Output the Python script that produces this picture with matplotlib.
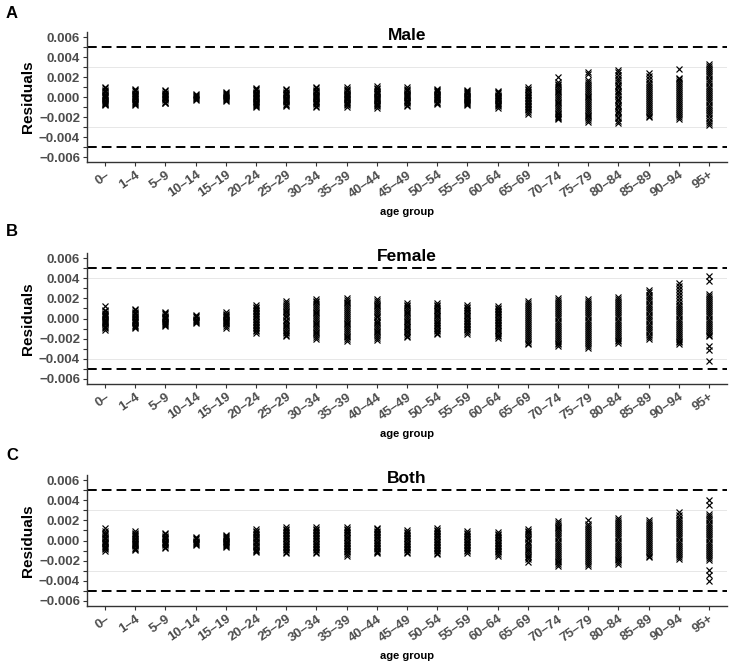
import matplotlib
matplotlib.use('Agg')
import matplotlib.pyplot as plt
import numpy as np

plt.rcParams['font.family'] = ['Liberation Sans', 'DejaVu Sans']

age_groups = ['0–', '1–4', '5–9', '10–14', '15–19', '20–24', '25–29', '30–34',
              '35–39', '40–44', '45–49', '50–54', '55–59', '60–64', '65–69',
              '70–74', '75–79', '80–84', '85–89', '90–94', '95+']

# residuals per age group, in units of 1e-4
male_res = [
    [10, 9, 7.5, 6, 5, 3.5, 2.5, 1, 0, -1, -2.5, -3.5, -4.5, -5.5, -6.5, -7, -8],
    [8, 7, 6, 4.5, 3, 2, 1, 0, -1, -2, -3.5, -4.5, -5.5, -6.5, -8],
    [7, 6, 4.5, 3, 2, 1, 0, -1, -2, -3, -4.5, -5.5, -6],
    [3, 2, 1, 0, -1, -2, -3],
    [5, 4, 3, 2, 1, 0, -1, -2, -3, -4],
    [9, 8, 7, 5.5, 4.5, 3, 2, 1, 0, -1, -2, -3.5, -4.5, -5.5, -6.5, -8, -9, -10],
    [8, 7, 5.5, 4, 3, 2, 0.5, -0.5, -1.5, -3, -4, -5, -6.5, -7.5, -9],
    [10, 9, 7.5, 6, 5, 3.5, 2, 1, 0, -1, -2, -3.5, -4.5, -6, -7, -8.5, -10],
    [10, 8.5, 7.5, 6, 4.5, 3.5, 2, 1, 0, -1, -2, -3, -4.5, -6, -7, -8, -10],
    [11, 9, 8, 6.5, 5, 4, 3, 1.5, 0.5, -0.5, -2, -3, -4, -5.5, -7, -8, -9, -10.5],
    [10, 8.5, 7, 6, 4.5, 3, 2, 1, 0, -1, -2.5, -3.5, -5, -6, -7.5, -9],
    [8.5, 7.5, 6, 5, 3.5, 2.5, 1, 0, -1, -2, -3, -4.5, -5.5, -7],
    [7.5, 6.5, 5, 4, 3, 1.5, 0.5, -0.5, -1.5, -3, -4, -5, -6, -7, -8],
    [6, 5, 4, 2.5, 1.5, 0.5, -0.5, -2, -3, -4, -5.5, -6.5, -8, -9, -11],
    [10, 8.5, 7, 5, 3.5, 2, 0.5, -1, -2.5, -4, -5.5, -7, -8.5, -10, -11.5, -13, -14.5, -16.5],
    [20, 15, 13.5, 12, 10, 8.5, 6.5, 5, 3, 1, -1, -2.5, -4.5, -6, -8, -10, -12, -13.5,
     -15.5, -17, -18.5, -20, -21, -22],
    [25, 23, 17, 15, 13, 11, 9, 7.5, 5.5, 3.5, 1.5, 0, -2, -4, -6, -8, -10, -11.5, -13.5,
     -15.5, -17.5, -19, -21, -22.5, -24.5],
    [27.5, 25, 22.5, 19.5, 17, 15, 12.5, 11, 9, 6.5, 5, 3, 1, -1.5, -3, -5, -7.5, -9, -11,
     -13.5, -15, -17, -19.5, -21, -23.5, -26],
    [24, 21.5, 18, 15.5, 13, 11.5, 9, 7, 5.5, 3, 1, -0.5, -3, -5, -6.5, -9, -11, -12.5,
     -15, -17, -18.5, -20],
    [28, 19.5, 18, 16, 14, 12, 10, 8, 6, 4, 2, 0, -2, -4, -6, -8, -10, -12, -14, -16,
     -18, -20, -22],
    [33, 31, 29, 27, 25, 23, 21, 18, 16, 14, 11, 9, 7, 5, 3, 1, -1, -3, -5, -8, -10, -12,
     -14, -16, -18, -21, -24, -26, -28],
]

female_res = [
    [12, 8, 7, 5.5, 4.5, 3, 2, 1, 0, -1, -2, -3, -4.5, -5.5, -7, -8, -9.5, -11],
    [9, 8, 6.5, 5, 4, 2.5, 1.5, 0, -1, -2, -3.5, -4.5, -6, -7, -8, -9],
    [6, 5, 4, 2.5, 1.5, 0.5, -0.5, -2, -3, -4, -5, -6, -7],
    [3, 2, 1, 0, -1, -2, -3, -4],
    [6, 4.5, 3.5, 2, 1, 0, -1, -2, -3.5, -4.5, -5.5, -7, -9],
    [13, 11.5, 10, 8.5, 7, 5.5, 4, 2.5, 1, -0.5, -2, -3.5, -5, -6.5, -8, -9.5, -11, -12.5, -14],
    [17, 15.5, 13.5, 11, 9.5, 7.5, 6, 4, 2.5, 1, -1, -2.5, -4, -6, -7.5, -9.5, -11, -13,
     -14.5, -16, -17],
    [19, 17.5, 16, 14, 12, 10, 8.5, 6.5, 5, 3, 1, -0.5, -2, -4, -5.5, -7.5, -9, -11, -13,
     -14.5, -16, -18, -20],
    [20, 18.5, 16.5, 15, 13, 11, 9, 7, 5.5, 3.5, 1.5, 0, -2, -4, -5.5, -7.5, -9.5, -11, -13,
     -15, -17, -18.5, -20, -22],
    [19, 17.5, 15.5, 13.5, 12, 10, 8, 6, 4.5, 2.5, 1, -1, -3, -4.5, -6.5, -8, -10, -12,
     -13.5, -15.5, -17, -19, -21],
    [15, 13.5, 12, 10, 8.5, 6.5, 5, 3, 1.5, 0, -2, -3.5, -5, -7, -8.5, -10, -12, -13.5,
     -15.5, -17, -18],
    [15, 13.5, 12, 10.5, 8.5, 7, 5.5, 3.5, 2, 0.5, -1, -3, -4.5, -6, -7.5, -9.5, -11, -12.5,
     -14, -15],
    [13, 11.5, 10, 8.5, 7, 5, 3.5, 2, 0.5, -1, -2.5, -4, -5.5, -7, -8.5, -10, -11.5, -13, -15],
    [12, 10.5, 9, 7.5, 6, 4.5, 3, 1.5, 0, -1.5, -3, -4.5, -6, -7.5, -9, -11, -12.5, -14,
     -16, -17.5, -19],
    [17, 15, 13, 11.5, 9.5, 7.5, 5.5, 3.5, 1.5, -0.5, -2.5, -4.5, -6.5, -8.5, -10.5, -12.5,
     -14.5, -16.5, -18.5, -20.5, -22.5, -24, -25],
    [20, 18, 16.5, 14, 12.5, 10, 8, 6.5, 4, 2, 0.5, -2, -4, -6.5, -8, -10, -12.5, -14, -16,
     -18.5, -20, -22, -24, -25.5, -27],
    [19, 17.5, 15.5, 13.5, 11, 9, 7, 5, 3, 1, -1, -3, -5, -7, -9, -11, -13, -15, -17, -19,
     -21, -23, -25, -27, -29],
    [21, 19, 17, 15, 13, 11, 9, 7, 5, 3, 1, -1, -3, -5, -7, -9, -11, -13, -15, -17, -19,
     -21, -22.5, -24],
    [28, 26, 23.5, 21, 19, 17, 14.5, 12.5, 10, 8, 6, 3.5, 1.5, -0.5, -2.5, -5, -7, -9,
     -11.5, -13.5, -16, -18, -20],
    [35, 32, 29, 26, 23, 20, 17, 14, 12, 10, 8, 6, 4, 2, 0, -2, -4, -6, -8, -10, -12, -14,
     -16, -18, -20, -22, -23.5, -25],
    [42, 37, 24, 22, 20, 18, 16, 14, 12, 10, 8, 6, 4, 2, 0, -2, -4, -6, -8, -10, -12, -14,
     -16, -17, -27, -31, -42],
]

both_res = [
    [12, 9, 7.5, 6, 5, 3.5, 2.5, 1, 0, -1, -2.5, -3.5, -5, -6, -7, -8.5, -10],
    [9, 7.5, 6.5, 5, 4, 2.5, 1, 0, -1, -2, -3.5, -4.5, -5.5, -7, -8, -9],
    [7, 6, 4.5, 3.5, 2, 1, 0, -1, -2.5, -3.5, -4.5, -6, -7],
    [3, 2, 1, 0, -1, -2, -3, -4],
    [5.5, 4.5, 3, 2, 1, 0, -1, -2, -3, -4.5, -5.5, -6.5],
    [11, 9.5, 8, 6.5, 5, 3.5, 2.5, 1, 0, -1.5, -2.5, -4, -5, -6.5, -8, -9, -10.5, -11.5],
    [13, 11.5, 10, 8.5, 7, 5.5, 4, 2.5, 1, -0.5, -2, -3.5, -5, -6.5, -8, -9.5, -11, -12],
    [13, 11.5, 10, 8.5, 7, 5.5, 4, 2.5, 1, -0.5, -2, -3.5, -5, -6.5, -8, -9.5, -11, -12],
    [13, 11.5, 10, 8.5, 7, 5, 3.5, 2, 0.5, -1, -2.5, -4, -5.5, -7, -8.5, -10, -11.5, -13, -15],
    [12.5, 11, 9.5, 8, 6.5, 5, 3.5, 2, 0.5, -1, -2.5, -4, -5.5, -7, -8.5, -10, -11.5, -12.5],
    [10, 8.5, 7, 5.5, 4, 2.5, 1, -0.5, -2, -3.5, -5, -6.5, -8, -9.5, -11, -12],
    [12, 10.5, 9, 7.5, 6, 4.5, 3, 1.5, 0, -1.5, -3, -4.5, -6, -7.5, -9, -10.5, -12, -13],
    [9, 7.5, 6, 4.5, 3, 1.5, 0, -1.5, -3, -4.5, -6, -7.5, -9, -10.5, -12],
    [8, 6.5, 5, 3.5, 2, 0.5, -1, -2.5, -4, -5.5, -7, -8.5, -10, -11.5, -13, -15],
    [11, 9.5, 8, 6, 4.5, 2.5, 1, -1, -2.5, -4.5, -6, -8, -9.5, -11.5, -13, -15, -16.5,
     -18.5, -21],
    [19, 17.5, 15.5, 13.5, 12, 10, 8, 6, 4, 2, 0, -2, -4, -6, -8, -10, -12, -14, -16, -18,
     -20, -21.5, -23.5, -25],
    [20, 16, 14.5, 12.5, 10.5, 8.5, 6.5, 4.5, 2.5, 0.5, -1.5, -3.5, -5.5, -7.5, -9.5, -11.5,
     -13.5, -15.5, -17.5, -19.5, -21.5, -23, -25],
    [22, 20, 18, 16, 14, 12, 10, 8, 6, 4, 2, 0, -2, -4, -6, -8, -10, -12, -14, -16, -18,
     -19.5, -21, -23],
    [20, 18.5, 16.5, 14.5, 12.5, 10.5, 8.5, 6.5, 4.5, 2.5, 0.5, -1.5, -3.5, -5.5, -7.5, -9.5,
     -11.5, -13.5, -15, -16],
    [28, 25, 22.5, 20, 18, 16, 14, 12, 10, 8, 6, 4, 2, 0, -2, -4, -6, -8, -10, -12, -14,
     -16, -18],
    [40, 35, 26, 24, 22, 20, 17.5, 15.5, 13, 11, 9, 7, 5, 3, 1, -1, -3, -5, -7, -9, -11,
     -13, -15, -17, -19, -29, -34, -40],
]

titles = ['Male', 'Female', 'Both']
letters = ['A', 'B', 'C']
grid_levels = [0.003, 0.004, 0.003]
unit = 1e-4

fig = plt.figure(figsize=(7.34, 6.66), dpi=100)
W, H = 734, 666
# axes boxes in pixels: left, top, right, bottom
boxes = [(87, 32, 727, 162), (87, 253, 727, 384), (87, 475, 727, 606)]
letter_y = [13, 231, 456]

for k, res in enumerate([male_res, female_res, both_res]):
    l, t, r, b = boxes[k]
    ax = fig.add_axes([l / W, 1 - b / H, (r - l) / W, (b - t) / H])
    g = grid_levels[k]
    ax.axhline(g, color='#e3e3e3', lw=0.6, zorder=0)
    ax.axhline(-g, color='#e3e3e3', lw=0.6, zorder=0)
    ax.axhline(0.005, color='black', lw=1.4, ls=(0, (5, 2.6)), zorder=1)
    ax.axhline(-0.005, color='black', lw=1.4, ls=(0, (5, 2.6)), zorder=1)
    for i, vals in enumerate(res):
        y = np.array(vals) * unit
        ax.plot(np.full(len(y), i), y, 'x', color='black', ms=4.8, mew=0.85, zorder=2)

    ax.set_xlim(-0.6, len(age_groups) - 0.4)
    ax.set_ylim(-0.0065, 0.0065)
    ax.set_xticks(range(len(age_groups)))
    ax.set_xticklabels(age_groups, rotation=35, ha='right', rotation_mode='anchor',
                       fontsize=9.5, color='#4d4d4d', fontweight='bold')
    yt = [-0.006, -0.004, -0.002, 0.0, 0.002, 0.004, 0.006]
    ax.set_yticks(yt)
    ax.set_yticklabels([f'{v:.3f}'.replace('-', '\u2212') for v in yt],
                       fontsize=9.5, color='#4d4d4d', fontweight='bold')
    ax.set_yticks([-0.005, -0.003, -0.001, 0.001, 0.003, 0.005], minor=True)
    ax.tick_params(axis='both', which='both', length=3, width=0.8, color='#333333')
    ax.tick_params(axis='x', pad=2)
    ax.tick_params(axis='y', pad=2)
    for s in ['top', 'right']:
        ax.spines[s].set_visible(False)
    for s in ['left', 'bottom']:
        ax.spines[s].set_color('#333333')
        ax.spines[s].set_linewidth(1.0)

    ax.set_ylabel('Residuals', fontsize=11, fontweight='bold', labelpad=3)
    ax.text(0.5, 0.94, titles[k], transform=ax.transAxes, ha='center', va='baseline',
            fontsize=12.5, fontweight='bold')
    ax.text(0.5, -0.385, 'age group', transform=ax.transAxes, ha='center', va='center',
            fontsize=8, fontweight='bold')
    fig.text(12 / W, 1 - letter_y[k] / H, letters[k], ha='center', va='center',
             fontsize=12, fontweight='bold')

fig.savefig('out.png', dpi=100)
